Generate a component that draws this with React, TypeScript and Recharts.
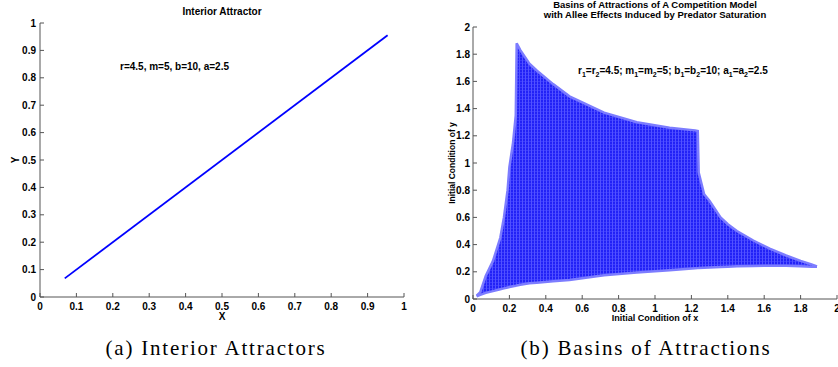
import { LineChart, Line, AreaChart, Area, XAxis, YAxis, Label } from 'recharts';

// (a) interior attractor: the points lie on the diagonal
const attractorX = [0.068, 0.955];
const attractorY = [0.068, 0.955];
const attractorTicks = [0, 0.1, 0.2, 0.3, 0.4, 0.5, 0.6, 0.7, 0.8, 0.9, 1];

const basinX = [0.02, 0.04, 0.07, 0.11, 0.15, 0.17, 0.19, 0.2, 0.22, 0.235, 0.24, 0.26, 0.31, 0.35, 0.44, 0.53, 0.72, 0.9, 1.08, 1.22, 1.235, 1.24, 1.27, 1.3, 1.36, 1.4, 1.45, 1.54, 1.63, 1.72, 1.8, 1.86, 1.89];
const basinLow = [0.02, 0.03, 0.045, 0.058, 0.072, 0.078, 0.084, 0.088, 0.094, 0.098, 0.1, 0.105, 0.115, 0.12, 0.13, 0.14, 0.175, 0.195, 0.212, 0.226, 0.227, 0.228, 0.23, 0.232, 0.236, 0.238, 0.24, 0.243, 0.245, 0.245, 0.24, 0.237, 0.238];
const basinHigh = [0.025, 0.05, 0.17, 0.28, 0.45, 0.6, 0.8, 0.97, 1.15, 1.35, 1.88, 1.83, 1.73, 1.68, 1.58, 1.49, 1.37, 1.3, 1.26, 1.24, 1.235, 0.93, 0.77, 0.72, 0.6, 0.55, 0.5, 0.43, 0.37, 0.32, 0.28, 0.255, 0.24];
const basinTicksX = [0, 0.2, 0.4, 0.6, 0.8, 1, 1.2, 1.4, 1.6, 1.8, 2];
const basinTicksY = [0, 0.2, 0.4, 0.6, 0.8, 1, 1.2, 1.4, 1.6, 1.8, 2];

const attractorData = attractorX.map((x, i) => ({ x, y: attractorY[i] }));
const basinData = basinX.map((x, i) => ({ x, range: [basinLow[i], basinHigh[i]] }));

const font = '"Liberation Sans", Arial, sans-serif';
const tickStyle = { fontSize: 10, fontWeight: 700, fill: '#000', fontFamily: font };
const axisColor = '#555';
const boldText = { fontSize: 10, fontWeight: 700, fontFamily: font, fill: '#000' };

function Sub({ children }: { children: string }) {
  return (
    <tspan fontSize={7} dy={3}>
      {children}
    </tspan>
  );
}

function InteriorAttractor() {
  return (
    <LineChart width={420} height={325} data={attractorData} margin={{ top: 23, right: 16, bottom: 0, left: 0 }}>
      <XAxis
        type="number"
        dataKey="x"
        domain={[0, 1]}
        ticks={attractorTicks}
        interval={0}
        height={28}
        tickSize={-4}
        tickMargin={10}
        stroke={axisColor}
        tick={tickStyle}
      >
        <Label value="X" position="insideBottom" offset={5} style={boldText} />
      </XAxis>
      <YAxis
        type="number"
        domain={[0, 1]}
        ticks={attractorTicks}
        interval={0}
        width={40}
        tickSize={-4}
        tickMargin={8}
        stroke={axisColor}
        tick={tickStyle}
      />
      <Line type="linear" dataKey="y" stroke="#0000ff" strokeWidth={1.8} dot={false} isAnimationActive={false} />
      <text x={222} y={15} textAnchor="middle" {...boldText}>Interior Attractor</text>
      <text x={15} y={160} textAnchor="middle" transform="rotate(-90 15 160)" dy={4} {...boldText}>Y</text>
      <text x={120} y={70} {...boldText}>r=4.5, m=5, b=10, a=2.5</text>
    </LineChart>
  );
}

function Basins() {
  return (
    <AreaChart width={418} height={327} data={basinData} margin={{ top: 27, right: 1, bottom: 0, left: 0 }}>
      <defs>
        <pattern id="dots" width="3" height="3" patternUnits="userSpaceOnUse">
          <rect width="3" height="3" fill="#2222f6" />
          <rect width="3" height="1" fill="#3a3aff" />
          <rect width="1" height="3" fill="#5252ff" />
        </pattern>
      </defs>
      <XAxis
        type="number"
        dataKey="x"
        domain={[0, 2]}
        ticks={basinTicksX}
        interval={0}
        height={28}
        tickSize={-4}
        tickMargin={10}
        stroke={axisColor}
        tick={tickStyle}
      />
      <YAxis
        type="number"
        domain={[0, 2]}
        ticks={basinTicksY}
        interval={0}
        width={53}
        tickSize={-4}
        tickMargin={7}
        stroke={axisColor}
        tick={tickStyle}
      />
      <Area
        type="linear"
        dataKey="range"
        stroke="#7c7cff"
        strokeWidth={2.5}
        fill="url(#dots)"
        fillOpacity={1}
        isAnimationActive={false}
      />
      <text x={235} y={8} textAnchor="middle" fontSize={9.5} fontWeight={700} fontFamily={font}>Basins of Attractions of A Competition Model</text>
      <text x={235} y={18} textAnchor="middle" fontSize={9.5} fontWeight={700} fontFamily={font}>with Allee Effects Induced by Predator Saturation</text>
      <text x={32} y={163} textAnchor="middle" transform="rotate(-90 32 163)" dy={3} fontSize={8.5} fontWeight={700} fontFamily={font}>Initial Condition of y</text>
      <text x={235} y={321} textAnchor="middle" fontSize={9} fontWeight={700} fontFamily={font}>Initial Condition of x</text>
      <text x={158} y={74} {...boldText}>
        r<Sub>1</Sub><tspan dy={-3}>=r</tspan><Sub>2</Sub><tspan dy={-3}>=4.5; m</tspan><Sub>1</Sub>
        <tspan dy={-3}>=m</tspan><Sub>2</Sub><tspan dy={-3}>=5; b</tspan><Sub>1</Sub><tspan dy={-3}>=b</tspan><Sub>2</Sub>
        <tspan dy={-3}>=10; a</tspan><Sub>1</Sub><tspan dy={-3}>=a</tspan><Sub>2</Sub><tspan dy={-3}>=2.5</tspan>
      </text>
    </AreaChart>
  );
}

const captionStyle: React.CSSProperties = {
  position: 'absolute',
  top: 336,
  fontFamily: '"Liberation Serif", "Times New Roman", serif',
  fontSize: 21,
  letterSpacing: 1.8,
  textAlign: 'center',
  whiteSpace: 'nowrap',
};

export default function App() {
  return (
    <div style={{ position: 'absolute', left: 0, top: 0, width: 838, height: 367, background: '#fff', overflow: 'hidden' }}>
      <div style={{ position: 'absolute', left: 0, top: 0 }}>
        <InteriorAttractor />
      </div>
      <div style={{ position: 'absolute', left: 420, top: 0 }}>
        <Basins />
      </div>
      <div style={{ ...captionStyle, left: 96, width: 240 }}>(a) Interior Attractors</div>
      <div style={{ ...captionStyle, left: 516, width: 260 }}>(b) Basins of Attractions</div>
    </div>
  );
}
